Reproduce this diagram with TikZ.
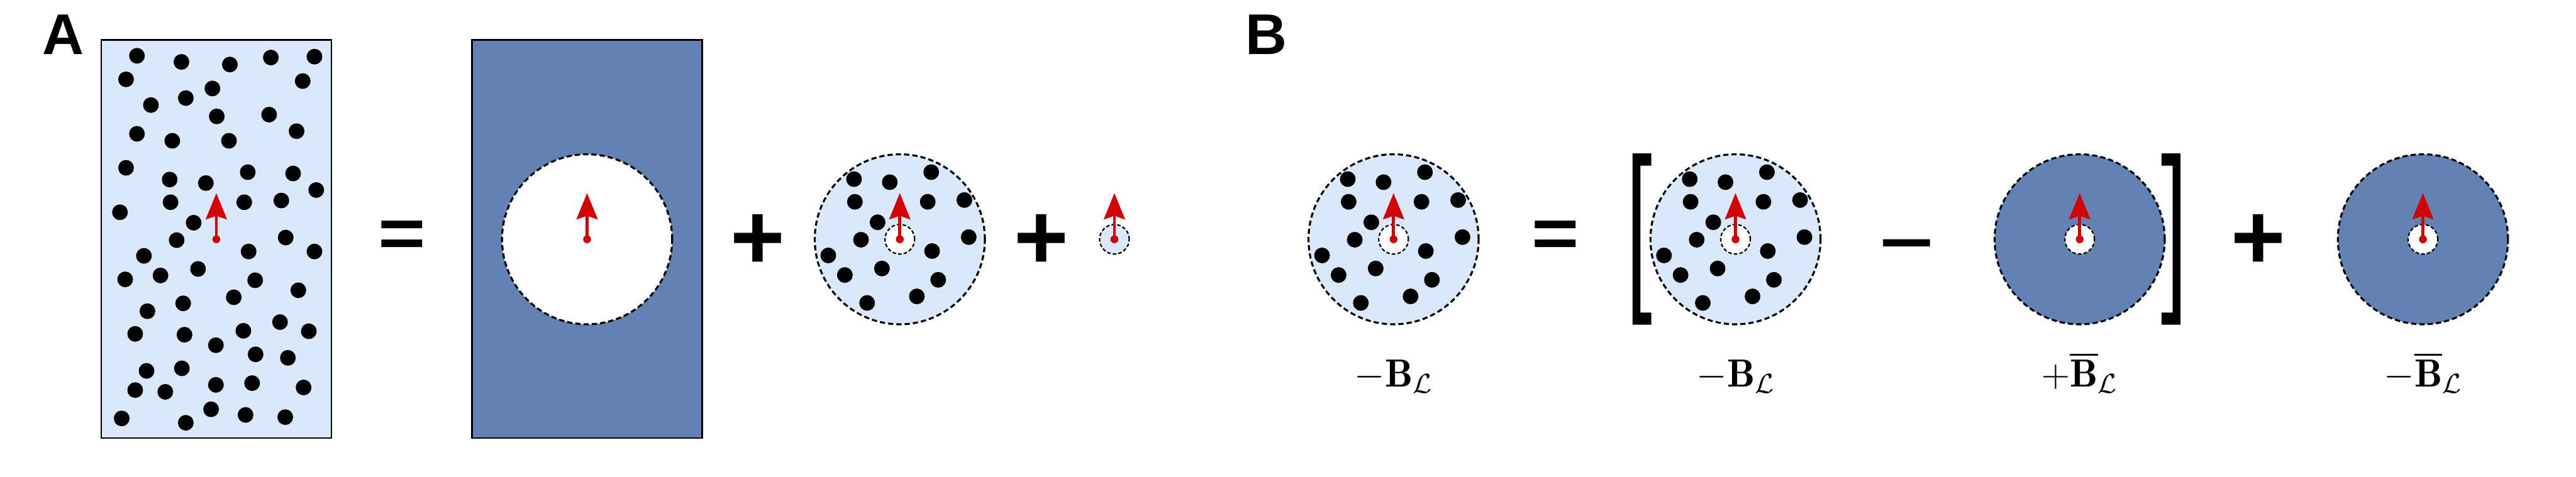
\RequirePackage{fix-cm}
\documentclass[tikz,border=0pt]{standalone}
\usepackage{amsmath}
\usepackage{fontspec}
\newfontfamily\signfont{Liberation Sans}
\usetikzlibrary{arrows.meta}

\definecolor{lightfill}{RGB}{218,232,252}
\definecolor{darkfill}{RGB}{97,130,178}
\definecolor{spinred}{RGB}{214,0,0}

\tikzset{
	cell/.style={draw=black, line width=1.1pt},
	ring/.style={draw=black, line width=1.3pt, dash pattern=on 3.4pt off 2pt},
	core/.style={draw=black, line width=0.9pt, dash pattern=on 2.3pt off 1.4pt, fill=white},
	spin/.style={spinred, line width=2pt, -{Stealth[length=6mm, width=4.8mm, inset=0.8mm]}},
	opsign/.style={font=\signfont\bfseries\fontsize{61}{61}\selectfont, inner sep=0pt, transform shape},
	panel/.style={font=\signfont\bfseries\fontsize{37.5}{40}\selectfont, inner sep=0pt, anchor=base west},
	coef/.style={font=\fontsize{25.6}{30}\selectfont, inner sep=0pt, anchor=base},
}

\begin{document}
\begin{tikzpicture}[>=Stealth]
	\useasboundingbox (0,0) rectangle (59.06,10.93);
	
	\def\yC{5.44}
	\def\rBig{1.95}
	\def\rCore{0.34}
	\def\rDot{0.18}
	\def\spinLen{1.06}
	\def\yLbl{2.05}
	\def\cloud{-1.05/1.38,-0.23/1.31,0.72/1.54,-1.03/0.86,0.64/0.86,1.48/0.90,-0.51/0.39,-0.89/-0.01,1.58/0.05,-1.64/-0.37,0.74/-0.27,-0.41/-0.67,-1.26/-0.82,0.88/-0.93,-0.75/-1.46,0.39/-1.31}
	
	% ── Panel A: caja llena de partículas ───────────────────────────────
	\node[panel] (panA) at (0.97,9.68) {A};
	\fill[lightfill] (2.32,0.88) rectangle (7.60,10.01);
	\foreach \xx/\yy in {3.14/9.65,4.16/9.51,5.27/9.45,6.21/9.61,7.21/9.63,2.89/9.11,6.94/9.07,4.87/8.90,
		4.26/8.68,3.46/8.52,4.97/8.26,6.17/8.30,3.14/7.86,6.80/7.92,3.95/7.70,5.25/7.70,
		2.89/7.08,5.68/6.98,6.72/6.95,3.89/6.81,4.72/6.73,7.25/6.57,3.91/6.29,5.60/6.29,
		6.45/6.33,2.75/6.06,4.44/5.82,4.05/5.42,6.55/5.48,5.70/5.16,7.21/5.16,3.30/5.06,
		4.54/4.76,2.87/4.52,3.68/4.61,5.85/4.50,6.84/4.27,5.36/4.11,4.20/3.97,3.38/3.79,
		6.42/3.54,5.58/3.34,7.08/3.33,3.10/3.27,4.23/3.25,4.95/3.01,5.86/2.80,6.60/2.72,
		3.36/2.42,4.17/2.48,4.95/2.10,5.78/2.14,6.96/2.04,3.10/1.98,3.79/1.94,4.84/1.54,
		5.63/1.41,6.54/1.36,2.79/1.33,4.26/1.23}{
		\fill (\xx,\yy) circle (\rDot);
	}
	\draw[cell] (2.32,0.88) rectangle (7.60,10.01);
	
	\node[opsign, xscale=0.87, yscale=0.75] (eqA) at (9.22,\yC) {=};
	
	% caja oscura con hueco
	\fill[darkfill] (10.82,0.88) rectangle (16.10,10.01);
	\draw[cell] (10.82,0.88) rectangle (16.10,10.01);
	\draw[ring, fill=white] (13.46,\yC) circle (\rBig);
	
	\node[opsign] (plusA1) at (17.37,\yC-0.06) {+};
	\node[opsign] (plusA2) at (23.87,\yC-0.06) {+};
	
	% núcleo pequeño
	\draw[core, fill=lightfill] (25.55,\yC) circle (\rCore);
	
	% ── Esferas con partículas (A y B) ──────────────────────────────────
	\foreach \cx in {20.63,31.95,39.79}{
		\begin{scope}[shift={(\cx,\yC)}]
			\fill[lightfill] (0,0) circle (\rBig);
			\foreach \dx/\dy in \cloud{
				\fill (\dx,\dy) circle (\rDot);
			}
			\draw[ring] (0,0) circle (\rBig);
			\draw[core] (0,0) circle (\rCore);
		\end{scope}
	}
	
	% ── Panel B ─────────────────────────────────────────────────────────
	\node[panel] (panB) at (28.55,9.68) {B};
	\node[opsign, xscale=0.87, yscale=0.75] (eqB) at (35.66,\yC) {=};
	\node[opsign, yscale=0.7] (minusB) at (43.71,\yC-0.30) {\char"2212};
	\node[opsign] (plusB) at (51.77,\yC-0.06) {+};
	
	% corchetes
	\fill (37.43,3.48) -- (37.86,3.48) -- (37.86,3.76) -- (37.61,3.76) -- (37.61,7.13)
	-- (37.86,7.13) -- (37.86,7.41) -- (37.43,7.41) -- cycle;
	\fill (49.99,3.48) -- (49.56,3.48) -- (49.56,3.76) -- (49.81,3.76) -- (49.81,7.13)
	-- (49.56,7.13) -- (49.56,7.41) -- (49.99,7.41) -- cycle;
	
	% discos oscuros
	\foreach \cx in {47.68,55.55}{
		\draw[ring, fill=darkfill] (\cx,\yC) circle (\rBig);
		\draw[core] (\cx,\yC) circle (\rCore);
	}
	
	% ── Espines ─────────────────────────────────────────────────────────
	\foreach \nm/\xx in {spinBox/4.96,spinHole/13.46,spinSph/20.63,spinCore/25.55,
		spinB1/31.95,spinB2/39.79,spinB3/47.68,spinB4/55.55}{
		\coordinate (\nm) at (\xx,\yC);
		\coordinate (\nm-tip) at (\xx,\yC+\spinLen);
		\draw[spin] (\nm) -- (\nm-tip);
		\fill[spinred] (\nm) circle (0.09);
	}
	
	% etiquetas
	\node[coef] (lblB1) at (31.95,\yLbl) {$-\mathbf{B}_{\mathcal{L}}$};
	\node[coef] (lblB2) at (39.79,\yLbl) {$-\mathbf{B}_{\mathcal{L}}$};
	\node[coef] (lblB3) at (47.68,\yLbl) {$+\overline{\mathbf{B}}_{\mathcal{L}}$};
	\node[coef] (lblB4) at (55.55,\yLbl) {$-\overline{\mathbf{B}}_{\mathcal{L}}$};
	
\end{tikzpicture}
\end{document}
